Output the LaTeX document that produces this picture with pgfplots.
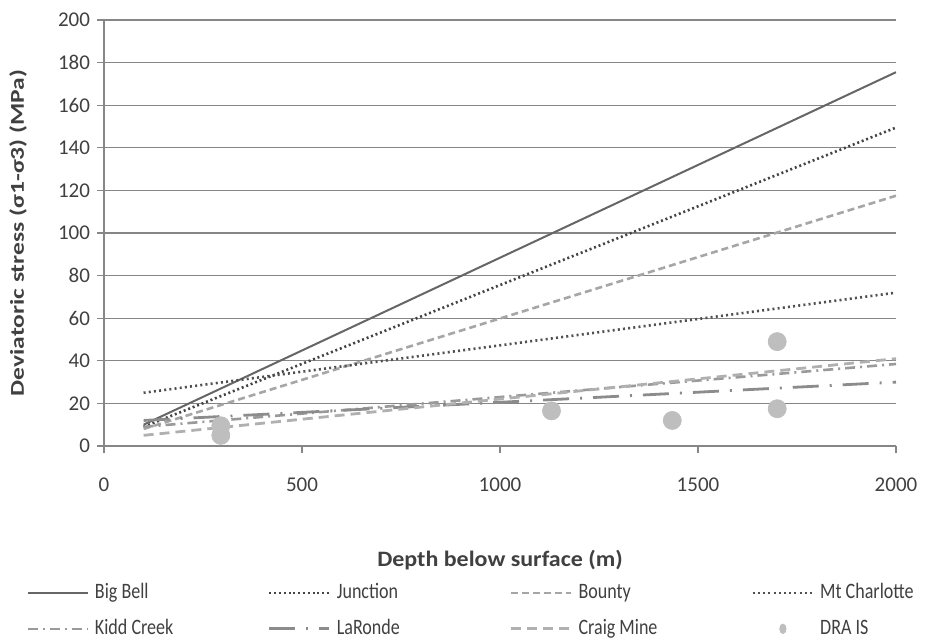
\documentclass[border=0pt]{standalone}
\usepackage{pgfplots}
\pgfplotsset{compat=1.18}
\usepackage{fontspec}
\setmainfont{Carlito}
\definecolor{axisgray}{HTML}{868686}
\definecolor{labelgray}{HTML}{404040}
\definecolor{bigbell}{HTML}{666666}
\definecolor{junction}{HTML}{444444}
\definecolor{bounty}{HTML}{A6A6A6}
\definecolor{mtch}{HTML}{505050}
\definecolor{kidd}{HTML}{9A9A9A}
\definecolor{laronde}{HTML}{8C8C8C}
\definecolor{craig}{HTML}{B0B0B0}
\definecolor{dra}{HTML}{BEBEBE}
\newcommand{\legtxt}[1]{\makebox[89.5pt][l]{\hspace{3pt}\scalebox{0.82}[1]{#1}}}
\begin{document}
\begin{tikzpicture}
\begin{axis}[
  scale only axis, width=396pt, height=213pt,
  xmin=0, xmax=2000, ymin=0, ymax=200,
  axis x line=bottom, axis y line=left,
  axis line style={-, draw=axisgray, line width=0.6pt},
  xtick={0,500,...,2000}, ytick={0,20,...,200},
  tick align=outside, major tick length=3.5pt,
  tick style={draw=axisgray, line width=0.6pt},
  ymajorgrids, grid style={draw=axisgray, line width=0.6pt},
  /pgf/number format/assume math mode=true,
  /pgf/number format/1000 sep={},
  ticklabel style={font=\fontsize{10.5}{12}\selectfont, text=labelgray},
  xticklabel style={yshift=-9pt},
  xlabel={\scalebox{1.09}[1]{\textbf{Depth below surface (m)}}},
  xlabel style={at={(axis description cs:0.5,0)}, anchor=center, yshift=-57pt, font=\fontsize{11}{13}\selectfont, text=labelgray},
  ylabel={\scalebox{1.3}[1]{\textbf{Deviatoric stress (σ1-σ3) (MPa)}}},
  ylabel style={at={(axis description cs:-0.1086,0.5)}, anchor=center, font=\fontsize{9.8}{12}\selectfont, text=labelgray},
  legend columns=4,
  legend cell align=left,
  legend style={at={(axis description cs:-0.0985,-0.319)}, anchor=north west, draw=none, fill=none, inner sep=0pt,
    nodes={inner sep=0pt, text height=8pt, text depth=2.5pt, font=\fontsize{11}{13}\selectfont, text=labelgray},
    /tikz/column sep=0pt, /tikz/row sep=7.5pt},
  legend image code/.code={\draw[#1] (0pt,0pt) -- (30pt,0pt);},
]
\addplot[bigbell, line width=1pt] coordinates {(100,10) (2000,175.5)};
\addlegendentry{\legtxt{Big Bell}}
\addplot[junction, line width=1.3pt, dash pattern=on 1pt off 1.4pt] coordinates {(100,9) (2000,149.5)};
\addlegendentry{\legtxt{Junction}}
\addplot[bounty, line width=1.3pt, dash pattern=on 3.5pt off 2pt] coordinates {(100,8) (2000,117.5)};
\addlegendentry{\legtxt{Bounty}}
\addplot[mtch, line width=1.3pt, dash pattern=on 1pt off 1.6pt] coordinates {(100,25) (2000,72)};
\addlegendentry{\legtxt{Mt Charlotte}}
\addplot[kidd, line width=1.3pt, dash pattern=on 5pt off 2.5pt on 1pt off 2.5pt] coordinates {(100,9) (2000,38.5)};
\addlegendentry{\legtxt{Kidd Creek}}
\addplot[laronde, line width=1.4pt, dash pattern=on 13pt off 5.5pt on 1pt off 5.5pt] coordinates {(100,12) (2000,30)};
\addlegendentry{\legtxt{LaRonde}}
\addplot[craig, line width=1.4pt, dash pattern=on 5pt off 3pt] coordinates {(100,5) (2000,41)};
\addlegendentry{\legtxt{Craig Mine}}
\addplot[only marks, mark=*, mark size=4.5pt, color=dra, mark options={draw=dra, fill=dra},
  legend image code/.code={\fill[dra] (15pt,0pt) ellipse (1.6pt and 2.4pt);}]
  coordinates {(295,9.5) (295,5) (1130,16.5) (1435,12) (1700,49) (1700,17.5)};
\addlegendentry{\legtxt{DRA IS}}
\end{axis}
\pgfresetboundingbox
\path (-52pt,-98.5pt) rectangle (410.5pt,223pt);
\end{tikzpicture}
\end{document}
